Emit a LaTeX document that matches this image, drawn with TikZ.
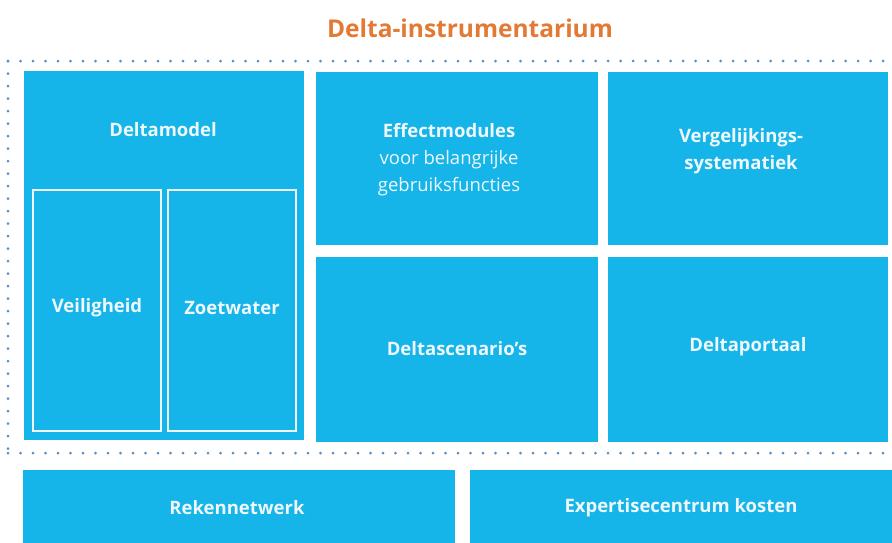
\documentclass[tikz,border=0pt]{standalone}
\usepackage{fontspec}
\setmainfont{Open Sans}
\definecolor{boxc}{HTML}{15B4E9}
\definecolor{txt}{HTML}{EEF8FC}
\definecolor{dotc}{HTML}{5A8DC2}
\definecolor{titlec}{HTML}{E27A35}
\tikzset{
  box/.style={fill=boxc, draw=none, inner sep=0pt, outer sep=0pt, anchor=north west},
  inbox/.style={draw=txt, line width=1.3pt, fill=none, inner sep=0pt, outer sep=0pt, anchor=north west},
  lbl/.style={text=txt, font=\bfseries\fontsize{18.5}{27}\selectfont, align=center, inner sep=0pt},
  dots/.style={draw=dotc, line width=3pt, line cap=round, dash pattern=on 0pt off 12.5pt},
}
\begin{document}
\begin{tikzpicture}[x=1pt,y=-1pt]
\useasboundingbox (0,0) rectangle (892,542);
% title
\node[text=titlec, font=\bfseries\fontsize{24.5}{28}\selectfont, inner sep=0pt] (title) at (470,28) {Delta-instrumentarium};
% dotted frame
\coordinate (tl) at (8,61);
\coordinate (tr) at (892,61);
\coordinate (bl) at (8,453);
\coordinate (br) at (892,453);
\draw[dots] (tl) -- (tr);
\draw[dots] (tl) -- (bl);
\draw[dots] (bl) -- (br);
% boxes
\node[box, minimum width=280pt, minimum height=369pt] (dm) at (24,71) {};
\node[inbox, minimum width=128pt, minimum height=241pt] (veil) at (33,190) {};
\node[inbox, minimum width=128pt, minimum height=241pt] (zoet) at (168,190) {};
\node[box, minimum width=282pt, minimum height=173pt] (eff) at (316,72) {};
\node[box, minimum width=280pt, minimum height=173pt] (verg) at (608,72) {};
\node[box, minimum width=282pt, minimum height=185pt] (scen) at (316,257) {};
\node[box, minimum width=280pt, minimum height=185pt] (port) at (608,257) {};
\node[box, minimum width=432pt, minimum height=80pt] (rek) at (23,470) {};
\node[box, minimum width=430pt, minimum height=80pt] (exp) at (470,470) {};
% labels
\node[lbl] (dmL) at (163,130) {Deltamodel};
\node[lbl] (veilL) at (97,308) {Veiligheid};
\node[lbl] (zoetL) at (232,308) {Zoetwater};
\node[lbl] (effL) at (449,160) {Effectmodules\\\mdseries voor belangrijke\\\mdseries gebruiksfuncties};
\node[lbl] (vergL) at (741,151) {Vergelijkings-\\systematiek};
\node[lbl] (scenL) at (457,349) {Deltascenario’s};
\node[lbl] (portL) at (748,347) {Deltaportaal};
\node[lbl] (rekL) at (237,508) {Rekennetwerk};
\node[lbl] (expL) at (681,508) {Expertisecentrum kosten};
\end{tikzpicture}
\end{document}
